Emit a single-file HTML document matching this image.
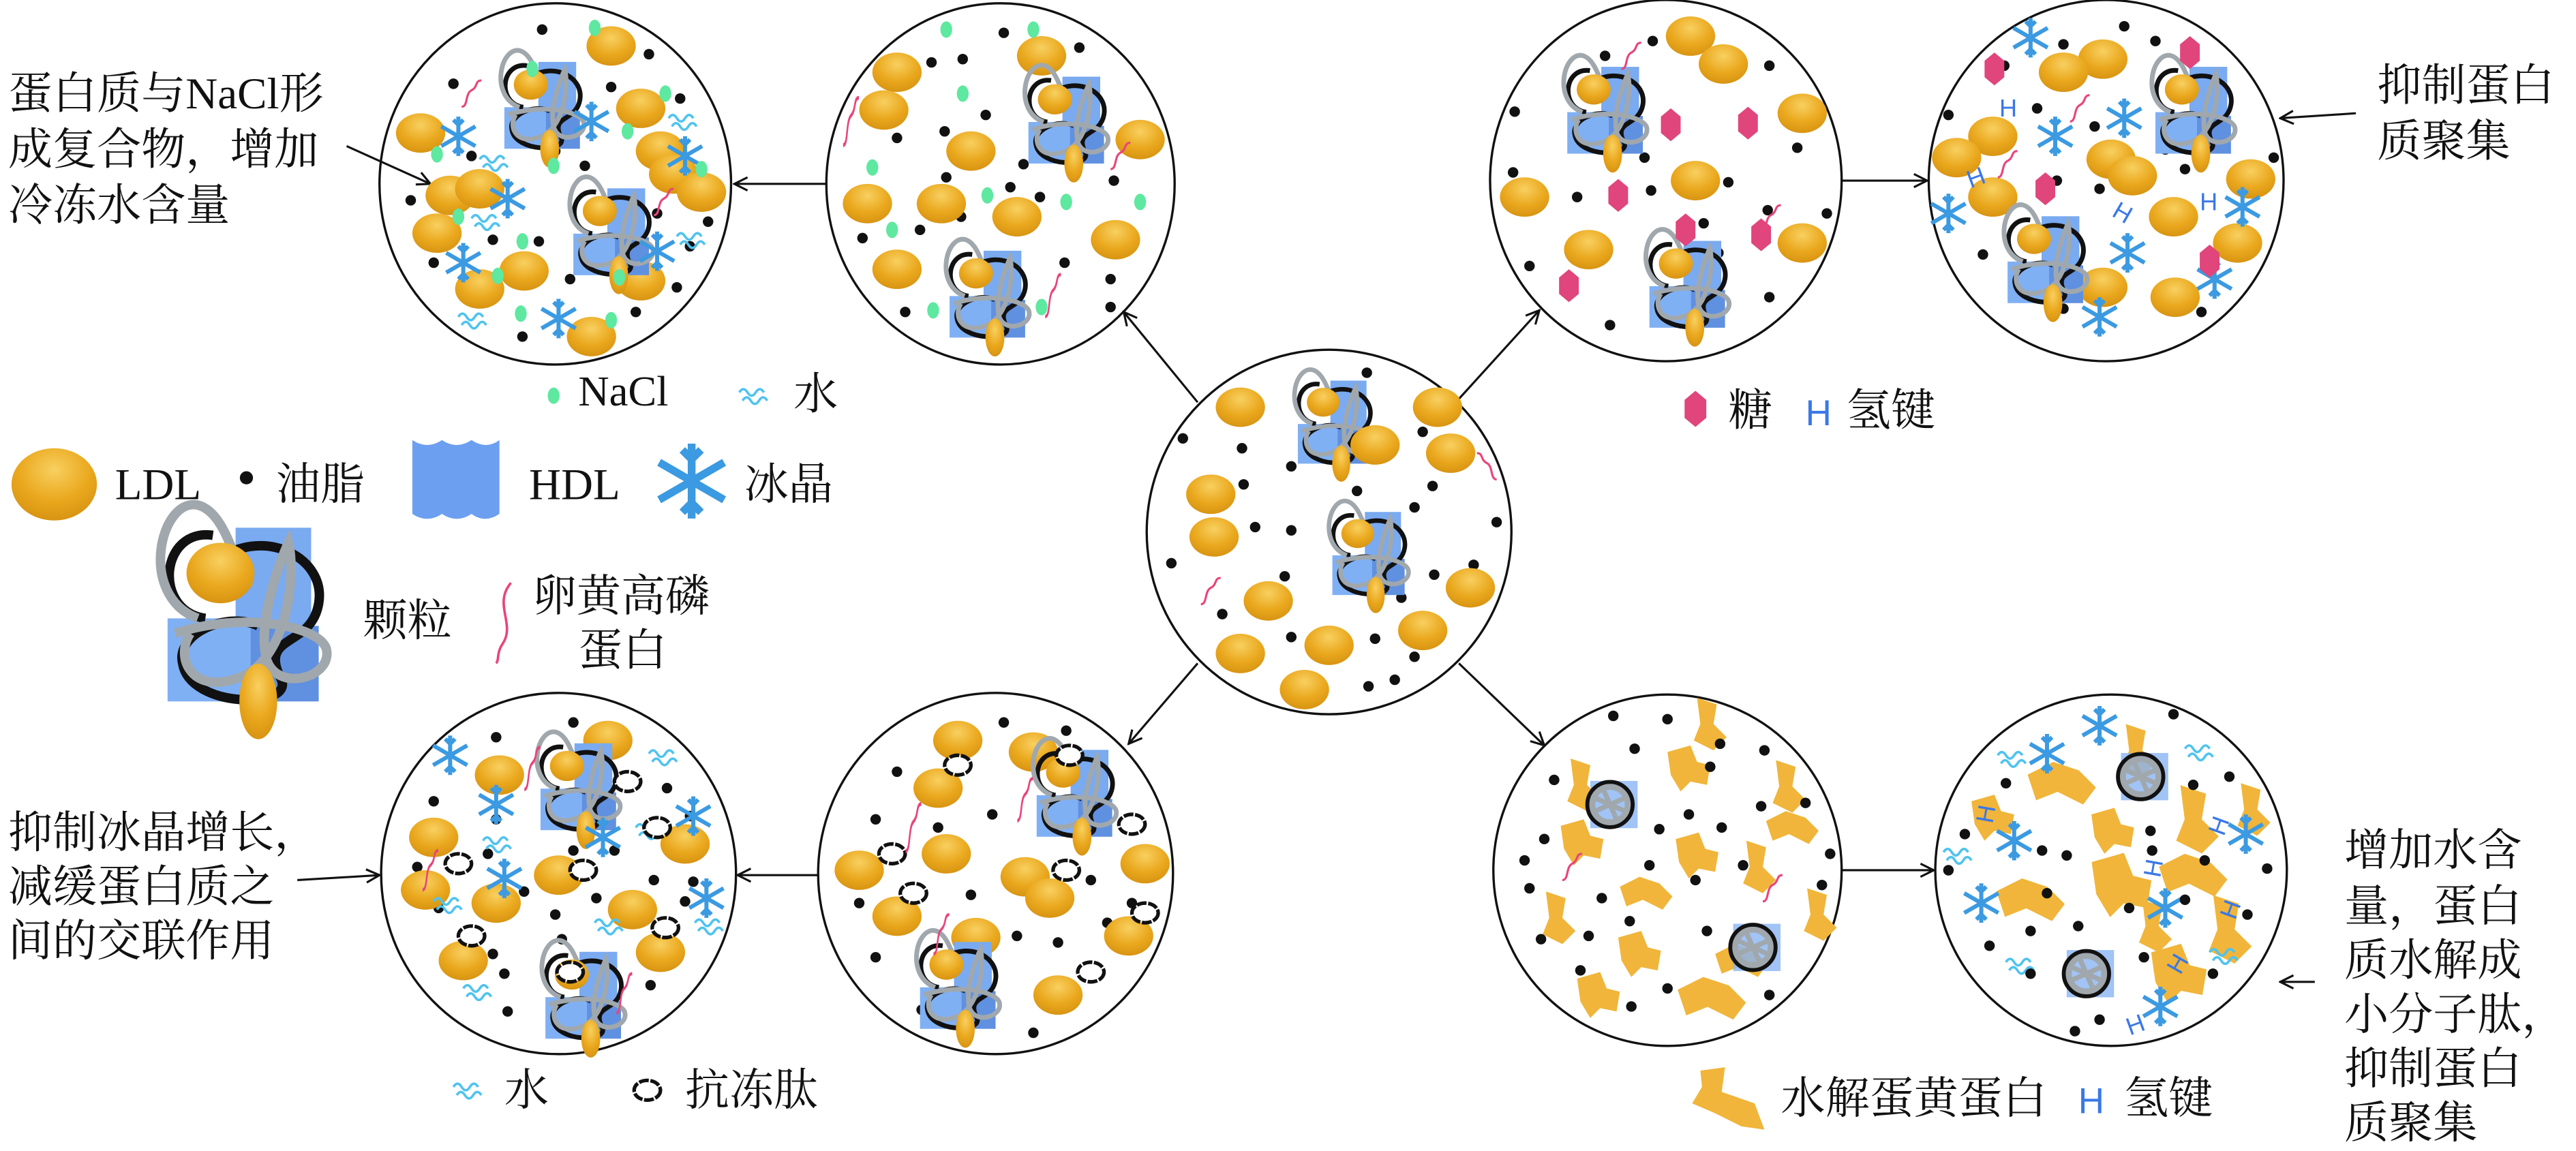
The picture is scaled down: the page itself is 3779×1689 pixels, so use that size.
<!DOCTYPE html>
<html><head><meta charset="utf-8"><style>
html,body{margin:0;padding:0;background:#fff;}
svg{display:block;}
text{font-family:"Liberation Serif","Noto Serif CJK SC",serif;fill:#111;}
.h{font-family:"Liberation Sans",sans-serif;fill:#3a78e6;font-size:15px;}
</style></head><body>
<svg width="3779" height="1689" viewBox="0 0 1568 701" preserveAspectRatio="none" xmlns="http://www.w3.org/2000/svg">
<defs>
<radialGradient id="gold" cx="0.5" cy="0.3" r="0.7">
<stop offset="0" stop-color="#f8d060"/><stop offset="0.6" stop-color="#eaa81e"/><stop offset="1" stop-color="#d89412"/></radialGradient>
<marker id="ar" markerWidth="10" markerHeight="10" refX="9" refY="5" orient="auto" markerUnits="userSpaceOnUse">
<path d="M1,1 L9,5 L1,9" fill="none" stroke="#111" stroke-width="1.3"/></marker>
<g id="L"><ellipse rx="15" ry="12" fill="url(#gold)"/></g>
<g id="d"><circle r="3.2" fill="#111"/></g>
<g id="n"><ellipse rx="3.6" ry="5" fill="#5ee8a0"/></g>
<g id="s" stroke="#3b9ae1" stroke-width="2.5" fill="none"><path d="M0,-12V12M-10.4,-6L10.4,6M-10.4,6L10.4,-6M-3,-10L0,-7L3,-10M-3,10L0,7L3,10"/></g>
<g id="w" stroke="#4fc3ef" stroke-width="1.5" fill="none"><path d="M-10,-2q2.5,-4 5,0t5,0t5,0M-8,3q2.5,-4 5,0t5,0t5,0"/></g>
<g id="x"><path d="M0,-10L6,-5L6,5L0,10L-6,5L-6,-5Z" fill="#e0457b"/></g>
<g id="p"><ellipse rx="8" ry="6" fill="#fff" stroke="#111" stroke-width="2.2" stroke-dasharray="6 1"/></g>
<g id="k"><path d="M-6,8 C-2,8 -4,0 0,-2 C4,-4 2,-8 6,-8" stroke="#e8457a" stroke-width="1.3" fill="none"/></g>
<g id="P">
<rect x="-2" y="-22" width="20" height="26" fill="#7aaaf0"/>
<rect x="-20" y="2" width="24" height="22" fill="#80b0f4"/>
<rect x="2" y="4" width="18" height="20" fill="#6090e0"/>
<path d="M-8,-20 C-22,-22 -24,0 -10,2 M-6,-14 C6,-22 22,-14 20,-2 C18,10 4,6 10,18 C14,26 -14,26 -16,14 C-18,6 -4,0 4,4" stroke="#111" stroke-width="2.5" fill="none"/>
<path d="M-12,2 C-28,-4 -22,-30 -12,-28 C-4,-26 -2,-10 2,-6 M-18,6 C0,0 20,4 22,10 C24,18 8,22 6,12 C4,2 10,-14 12,-18 C14,-10 12,14 -2,18 C-14,22 -18,12 -14,6" stroke="#a0a8ad" stroke-width="2.5" fill="none"/>
<ellipse cx="-6" cy="-10" rx="9" ry="8" fill="url(#gold)"/>
<ellipse cx="4" cy="24" rx="5" ry="10" fill="url(#gold)"/>
</g>
<g id="Q">
<rect x="-10" y="-12" width="24" height="24" fill="#8ab4f2" opacity="0.8"/>
<circle r="11" fill="none" stroke="#111" stroke-width="3"/>
<circle r="9" fill="none" stroke="#a0a8ad" stroke-width="3"/>
<path d="M-9,-4L9,4M-4,-9L4,9M-9,4L9,-4" stroke="#a0a8ad" stroke-width="2.5"/>
</g>
<g id="f1"><path d="M-12,-10L2,-14L6,-4L14,-2L12,10L2,8L-4,14L-10,4Z" fill="#f0b53a"/></g>
<g id="f2"><path d="M-6,-16L6,-12L4,0L12,8L4,16L-8,10L-4,0Z" fill="#f0b53a"/></g>
<g id="f3"><path d="M-16,-4L-4,-10L8,-6L16,2L10,10L-2,4L-12,8Z" fill="#f0b53a"/></g>
</defs>

<g stroke="#111" stroke-width="1.3" fill="none" marker-end="url(#ar)">
<line x1="503" y1="112" x2="447" y2="112"/>
<line x1="729" y1="245" x2="684" y2="190"/>
<line x1="888" y1="243" x2="937" y2="189"/>
<line x1="1121" y1="110" x2="1173" y2="110"/>
<line x1="729" y1="404" x2="687" y2="453"/>
<line x1="888" y1="404" x2="940" y2="454"/>
<line x1="1121" y1="530" x2="1177" y2="530"/>
<line x1="498" y1="533" x2="449" y2="533"/>
<line x1="211" y1="89" x2="262" y2="112"/>
<line x1="1434" y1="69" x2="1388" y2="72"/>
<line x1="181" y1="536" x2="231" y2="533"/>
<line x1="1409" y1="598" x2="1388" y2="598"/>
</g>

<g fill="none" stroke="#111" stroke-width="1.4">
<ellipse cx="338" cy="112" rx="107" ry="110"/>
<ellipse cx="609" cy="112" rx="106" ry="110"/>
<ellipse cx="809" cy="324" rx="111" ry="111"/>
<ellipse cx="1014" cy="110" rx="107" ry="110"/>
<ellipse cx="1282" cy="110" rx="108" ry="110"/>
<ellipse cx="340" cy="532" rx="108" ry="110"/>
<ellipse cx="606" cy="532" rx="108" ry="110"/>
<ellipse cx="1015" cy="530" rx="106" ry="107"/>
<ellipse cx="1285" cy="530" rx="107" ry="107"/>
</g>

<g>
<use href="#d" x="330" y="18"/><use href="#d" x="395" y="33"/><use href="#d" x="276" y="51"/><use href="#d" x="372" y="53"/><use href="#d" x="414" y="60"/><use href="#d" x="287" y="95"/><use href="#d" x="338" y="92"/><use href="#d" x="356" y="101"/><use href="#d" x="250" y="122"/><use href="#d" x="400" y="130"/><use href="#d" x="300" y="146"/><use href="#d" x="328" y="147"/><use href="#d" x="420" y="150"/><use href="#d" x="264" y="160"/><use href="#d" x="347" y="170"/><use href="#d" x="412" y="175"/><use href="#d" x="318" y="205"/><use href="#d" x="387" y="190"/><use href="#d" x="431" y="135"/>
<use href="#L" x="372" y="28"/><use href="#L" x="256" y="81"/><use href="#L" x="274" y="119"/><use href="#L" x="292" y="115"/><use href="#L" x="266" y="142"/><use href="#L" x="292" y="176"/><use href="#L" x="319" y="165"/><use href="#L" x="390" y="66"/><use href="#L" x="402" y="92"/><use href="#L" x="410" y="106"/><use href="#L" x="427" y="117"/><use href="#L" x="390" y="171"/><use href="#L" x="360" y="205"/>
<use href="#P" transform="translate(330,63) scale(1.15)"/><use href="#P" transform="translate(372,140) scale(1.15)"/>
<use href="#s" x="279" y="83"/><use href="#s" x="360" y="74"/><use href="#s" x="417" y="95"/><use href="#s" x="309" y="121"/><use href="#s" x="282" y="160"/><use href="#s" x="340" y="194"/><use href="#s" x="400" y="153"/>
<use href="#n" x="362" y="17"/><use href="#n" x="324" y="42"/><use href="#n" x="405" y="57"/><use href="#n" x="382" y="80"/><use href="#n" x="266" y="94"/><use href="#n" x="337" y="101"/><use href="#n" x="279" y="132"/><use href="#n" x="318" y="147"/><use href="#n" x="303" y="168"/><use href="#n" x="377" y="169"/><use href="#n" x="317" y="191"/><use href="#n" x="372" y="195"/><use href="#n" x="427" y="103"/>
<use href="#w" x="417" y="74"/><use href="#w" x="302" y="99"/><use href="#w" x="297" y="135"/><use href="#w" x="422" y="146"/><use href="#w" x="289" y="195"/>
<use href="#k" x="287" y="57"/><use href="#k" x="404" y="123"/>
</g>

<g>
<use href="#d" x="611" y="20"/><use href="#d" x="657" y="29"/><use href="#d" x="567" y="38"/><use href="#d" x="586" y="36"/><use href="#d" x="600" y="70"/><use href="#d" x="546" y="84"/><use href="#d" x="575" y="80"/><use href="#d" x="623" y="100"/><use href="#d" x="576" y="108"/><use href="#d" x="615" y="114"/><use href="#d" x="678" y="110"/><use href="#d" x="633" y="120"/><use href="#d" x="585" y="132"/><use href="#d" x="525" y="145"/><use href="#d" x="560" y="140"/><use href="#d" x="648" y="160"/><use href="#d" x="676" y="170"/><use href="#d" x="676" y="187"/><use href="#d" x="551" y="190"/>
<use href="#L" x="546" y="44"/><use href="#L" x="538" y="67"/><use href="#L" x="634" y="34"/><use href="#L" x="591" y="92"/><use href="#L" x="694" y="85"/><use href="#L" x="528" y="124"/><use href="#L" x="573" y="124"/><use href="#L" x="619" y="132"/><use href="#L" x="679" y="146"/><use href="#L" x="546" y="164"/>
<use href="#P" transform="translate(649,72) scale(1.15)"/><use href="#P" transform="translate(601,178) scale(1.15)"/>
<use href="#n" x="576" y="18"/><use href="#n" x="629" y="18"/><use href="#n" x="586" y="57"/><use href="#n" x="531" y="102"/><use href="#n" x="601" y="119"/><use href="#n" x="649" y="123"/><use href="#n" x="694" y="123"/><use href="#n" x="543" y="140"/><use href="#n" x="568" y="189"/><use href="#n" x="634" y="187"/>
<use href="#k" transform="translate(518,74) scale(0.8,1.8)"/><use href="#k" x="682" y="95"/><use href="#k" transform="translate(641,180) scale(0.8,1.6)"/>
</g>

<g>
<use href="#d" x="720" y="267"/><use href="#d" x="756" y="273"/><use href="#d" x="786" y="284"/><use href="#d" x="757" y="295"/><use href="#d" x="826" y="299"/><use href="#d" x="872" y="296"/><use href="#d" x="866" y="263"/><use href="#d" x="832" y="227"/><use href="#d" x="861" y="309"/><use href="#d" x="911" y="318"/><use href="#d" x="764" y="321"/><use href="#d" x="786" y="323"/><use href="#d" x="713" y="343"/><use href="#d" x="782" y="351"/><use href="#d" x="897" y="344"/><use href="#d" x="873" y="350"/><use href="#d" x="853" y="364"/><use href="#d" x="744" y="374"/><use href="#d" x="786" y="388"/><use href="#d" x="837" y="389"/><use href="#d" x="861" y="400"/><use href="#d" x="849" y="414"/><use href="#d" x="833" y="418"/>
<use href="#L" x="755" y="248"/><use href="#L" x="875" y="248"/><use href="#L" x="883" y="276"/><use href="#L" x="737" y="301"/><use href="#L" x="739" y="327"/><use href="#L" x="772" y="366"/><use href="#L" x="755" y="398"/><use href="#L" x="809" y="393"/><use href="#L" x="866" y="384"/><use href="#L" x="895" y="358"/><use href="#L" x="794" y="420"/>
<use href="#P" transform="translate(812,256) scale(1.1)"/><use href="#L" x="837" y="271"/>
<use href="#P" transform="translate(833,336) scale(1.1)"/>
<use href="#k" x="737" y="360"/><use href="#k" transform="translate(905,284) scale(-1,1)"/>
</g>

<g>
<use href="#d" x="1006" y="25"/><use href="#d" x="977" y="34"/><use href="#d" x="1077" y="40"/><use href="#d" x="922" y="68"/><use href="#d" x="1094" y="90"/><use href="#d" x="1001" y="96"/><use href="#d" x="921" y="105"/><use href="#d" x="960" y="120"/><use href="#d" x="1005" y="116"/><use href="#d" x="1052" y="111"/><use href="#d" x="1076" y="128"/><use href="#d" x="1037" y="136"/><use href="#d" x="1112" y="130"/><use href="#d" x="931" y="162"/><use href="#d" x="980" y="198"/><use href="#d" x="1077" y="181"/><use href="#d" x="1046" y="154"/>
<use href="#L" x="1029" y="22"/><use href="#L" x="1049" y="39"/><use href="#L" x="1097" y="69"/><use href="#L" x="928" y="120"/><use href="#L" x="1032" y="110"/><use href="#L" x="967" y="152"/><use href="#L" x="1097" y="148"/>
<use href="#P" transform="translate(977,66) scale(1.15)"/><use href="#P" transform="translate(1027,172) scale(1.15)"/>
<use href="#x" x="1017" y="76"/><use href="#x" x="1064" y="75"/><use href="#x" x="985" y="119"/><use href="#x" x="1026" y="140"/><use href="#x" x="1072" y="143"/><use href="#x" x="955" y="174"/>
<use href="#k" x="993" y="34"/><use href="#k" x="1078" y="133"/>
</g>

<g>
<use href="#d" x="1293" y="16"/><use href="#d" x="1256" y="27"/><use href="#d" x="1312" y="25"/><use href="#d" x="1220" y="40"/><use href="#d" x="1240" y="66"/><use href="#d" x="1186" y="70"/><use href="#d" x="1275" y="77"/><use href="#d" x="1252" y="110"/><use href="#d" x="1207" y="155"/><use href="#d" x="1330" y="103"/><use href="#d" x="1318" y="91"/><use href="#d" x="1384" y="96"/><use href="#d" x="1358" y="144"/><use href="#d" x="1278" y="115"/><use href="#d" x="1237" y="175"/><use href="#d" x="1256" y="188"/><use href="#d" x="1318" y="187"/><use href="#d" x="1340" y="190"/>
<use href="#L" x="1280" y="36"/><use href="#L" x="1256" y="44"/><use href="#L" x="1213" y="83"/><use href="#L" x="1191" y="96"/><use href="#L" x="1213" y="120"/><use href="#L" x="1285" y="97"/><use href="#L" x="1298" y="107"/><use href="#L" x="1323" y="132"/><use href="#L" x="1370" y="109"/><use href="#L" x="1362" y="148"/><use href="#L" x="1280" y="175"/><use href="#L" x="1324" y="181"/>
<use href="#P" transform="translate(1335,66) scale(1.15)"/><use href="#P" transform="translate(1245,157) scale(1.15)"/>
<use href="#s" x="1236" y="23"/><use href="#s" x="1251" y="83"/><use href="#s" x="1293" y="72"/><use href="#s" x="1186" y="130"/><use href="#s" x="1295" y="154"/><use href="#s" x="1365" y="126"/><use href="#s" x="1348" y="170"/><use href="#s" x="1278" y="193"/>
<use href="#x" x="1333" y="32"/><use href="#x" x="1214" y="42"/><use href="#x" x="1245" y="115"/><use href="#x" x="1345" y="159"/>
<use href="#k" x="1266" y="66"/><use href="#k" x="1222" y="100"/>
<text class="h" x="1217" y="71">H</text><text class="h" x="1197" y="113" transform="rotate(-20 1203 107)">H</text><text class="h" x="1287" y="135" transform="rotate(30 1293 129)">H</text><text class="h" x="1339" y="128">H</text>
</g>

<g>
<use href="#d" x="349" y="440"/><use href="#d" x="302" y="449"/><use href="#d" x="264" y="488"/><use href="#d" x="302" y="499"/><use href="#d" x="297" y="520"/><use href="#d" x="349" y="518"/><use href="#d" x="374" y="518"/><use href="#d" x="406" y="480"/><use href="#d" x="420" y="497"/><use href="#d" x="254" y="528"/><use href="#d" x="319" y="543"/><use href="#d" x="267" y="553"/><use href="#d" x="338" y="557"/><use href="#d" x="363" y="547"/><use href="#d" x="398" y="536"/><use href="#d" x="422" y="537"/><use href="#d" x="417" y="549"/><use href="#d" x="342" y="572"/><use href="#d" x="300" y="581"/><use href="#d" x="307" y="593"/><use href="#d" x="309" y="616"/><use href="#d" x="396" y="600"/>
<use href="#L" x="370" y="451"/><use href="#L" x="304" y="472"/><use href="#L" x="264" y="510"/><use href="#L" x="259" y="542"/><use href="#L" x="302" y="550"/><use href="#L" x="340" y="533"/><use href="#L" x="385" y="554"/><use href="#L" x="417" y="514"/><use href="#L" x="402" y="580"/><use href="#L" x="282" y="585"/>
<use href="#P" transform="translate(352,478) scale(1.15)"/><use href="#P" transform="translate(355,605) scale(1.15)"/>
<use href="#s" x="274" y="460"/><use href="#s" x="302" y="490"/><use href="#s" x="367" y="510"/><use href="#s" x="307" y="535"/><use href="#s" x="430" y="547"/><use href="#s" x="422" y="497"/>
<use href="#w" x="405" y="461"/><use href="#w" x="304" y="514"/><use href="#w" x="274" y="551"/><use href="#w" x="372" y="564"/><use href="#w" x="433" y="564"/><use href="#w" x="292" y="604"/><use href="#w" x="397" y="506"/>
<use href="#p" x="382" y="476"/><use href="#p" x="279" y="526"/><use href="#p" x="355" y="530"/><use href="#p" x="400" y="504"/><use href="#p" x="287" y="570"/><use href="#p" x="347" y="592"/><use href="#p" x="405" y="565"/>
<use href="#k" transform="translate(262,530) scale(0.8,1.5)"/><use href="#k" transform="translate(324,468) scale(0.8,1.6)"/><use href="#k" transform="translate(380,605) scale(0.8,1.5)"/>
</g>

<g>
<use href="#d" x="611" y="440"/><use href="#d" x="649" y="445"/><use href="#d" x="546" y="470"/><use href="#d" x="533" y="499"/><use href="#d" x="604" y="496"/><use href="#d" x="571" y="504"/><use href="#d" x="687" y="522"/><use href="#d" x="591" y="545"/><use href="#d" x="523" y="550"/><use href="#d" x="664" y="536"/><use href="#d" x="689" y="550"/><use href="#d" x="619" y="570"/><use href="#d" x="533" y="583"/><use href="#d" x="644" y="574"/><use href="#d" x="674" y="562"/><use href="#d" x="629" y="629"/><use href="#d" x="561" y="615"/>
<use href="#L" x="583" y="451"/><use href="#L" x="629" y="458"/><use href="#L" x="571" y="480"/><use href="#L" x="576" y="520"/><use href="#L" x="523" y="530"/><use href="#L" x="546" y="558"/><use href="#L" x="624" y="534"/><use href="#L" x="639" y="547"/><use href="#L" x="697" y="526"/><use href="#L" x="687" y="570"/><use href="#L" x="594" y="571"/><use href="#L" x="644" y="606"/>
<use href="#P" transform="translate(654,482) scale(1.15)"/><use href="#P" transform="translate(583,599) scale(1.15)"/>
<use href="#p" x="651" y="460"/><use href="#p" x="583" y="466"/><use href="#p" x="689" y="502"/><use href="#p" x="649" y="530"/><use href="#p" x="697" y="556"/><use href="#p" x="556" y="544"/><use href="#p" x="543" y="520"/><use href="#p" x="664" y="592"/>
<use href="#k" transform="translate(556,504) scale(0.8,1.8)"/><use href="#k" transform="translate(624,487) scale(0.8,1.6)"/><use href="#k" transform="translate(573,569) scale(0.8,1.5)"/>
</g>

<g>
<use href="#f2" x="1039" y="441"/><use href="#f1" x="1027" y="468"/><use href="#f2" x="1087" y="479"/><use href="#f3" x="1091" y="504"/><use href="#f1" x="1032" y="521"/><use href="#f2" x="1069" y="528"/><use href="#f3" x="1002" y="544"/><use href="#f2" x="947" y="559"/><use href="#f1" x="997" y="581"/><use href="#f3" transform="translate(1042,608) scale(1.3)"/><use href="#f1" x="972" y="606"/><use href="#f2" x="1106" y="557"/><use href="#f1" x="962" y="513"/><use href="#f3" x="1060" y="585"/><use href="#f2" x="962" y="478"/>
<use href="#Q" transform="translate(980,490) scale(1.2)"/><use href="#Q" transform="translate(1067,577) scale(1.2)"/>
<use href="#d" x="982" y="436"/><use href="#d" x="1015" y="438"/><use href="#d" x="1047" y="453"/><use href="#d" x="1074" y="457"/><use href="#d" x="995" y="456"/><use href="#d" x="946" y="475"/><use href="#d" x="1041" y="467"/><use href="#d" x="1072" y="491"/><use href="#d" x="1099" y="489"/><use href="#d" x="1028" y="496"/><use href="#d" x="1048" y="504"/><use href="#d" x="1010" y="505"/><use href="#d" x="940" y="511"/><use href="#d" x="928" y="524"/><use href="#d" x="1004" y="527"/><use href="#d" x="1061" y="527"/><use href="#d" x="1114" y="520"/><use href="#d" x="1032" y="536"/><use href="#d" x="1109" y="539"/><use href="#d" x="931" y="541"/><use href="#d" x="975" y="547"/><use href="#d" x="992" y="561"/><use href="#d" x="1039" y="567"/><use href="#d" x="938" y="572"/><use href="#d" x="967" y="570"/><use href="#d" x="962" y="591"/><use href="#d" x="1015" y="602"/><use href="#d" x="1077" y="606"/><use href="#d" x="993" y="613"/>
<use href="#k" x="957" y="528"/><use href="#k" x="1079" y="541"/>
</g>

<g>
<use href="#f3" transform="translate(1255,477) scale(1.3)"/><use href="#f2" x="1300" y="457"/><use href="#f2" transform="translate(1335,499) scale(1.3)"/><use href="#f1" x="1285" y="506"/><use href="#f3" transform="translate(1236,548) scale(1.3)"/><use href="#f1" transform="translate(1290,539) scale(1.4)"/><use href="#f3" transform="translate(1335,533) scale(1.3)"/><use href="#f2" x="1310" y="564"/><use href="#f2" transform="translate(1355,566) scale(1.3)"/><use href="#f1" transform="translate(1325,593) scale(1.3)"/><use href="#f2" x="1370" y="493"/><use href="#f1" x="1212" y="498"/>
<use href="#Q" transform="translate(1303,473) scale(1.2)"/><use href="#Q" transform="translate(1270,593) scale(1.2)"/>
<use href="#s" x="1278" y="442"/><use href="#s" x="1246" y="459"/><use href="#s" x="1226" y="512"/><use href="#s" x="1206" y="550"/><use href="#s" x="1367" y="508"/><use href="#s" x="1318" y="553"/><use href="#s" x="1315" y="613"/>
<use href="#w" x="1226" y="462"/><use href="#w" x="1340" y="458"/><use href="#w" x="1193" y="521"/><use href="#w" x="1355" y="582"/><use href="#w" x="1231" y="588"/>
<use href="#d" x="1323" y="435"/><use href="#d" x="1357" y="473"/><use href="#d" x="1221" y="477"/><use href="#d" x="1335" y="478"/><use href="#d" x="1309" y="506"/><use href="#d" x="1310" y="518"/><use href="#d" x="1196" y="508"/><use href="#d" x="1243" y="518"/><use href="#d" x="1258" y="521"/><use href="#d" x="1342" y="524"/><use href="#d" x="1186" y="530"/><use href="#d" x="1380" y="529"/><use href="#d" x="1246" y="544"/><use href="#d" x="1296" y="553"/><use href="#d" x="1368" y="557"/><use href="#d" x="1330" y="548"/><use href="#d" x="1236" y="567"/><use href="#d" x="1265" y="564"/><use href="#d" x="1211" y="576"/><use href="#d" x="1305" y="583"/><use href="#d" x="1236" y="593"/><use href="#d" x="1347" y="593"/><use href="#d" x="1278" y="621"/><use href="#d" x="1263" y="628"/>
<text class="h" x="1202" y="501" transform="rotate(-80 1208 495)">H</text><text class="h" x="1344" y="508" transform="rotate(-70 1350 502)">H</text><text class="h" x="1304" y="534" transform="rotate(-80 1310 528)">H</text><text class="h" x="1351" y="559" transform="rotate(-70 1357 553)">H</text><text class="h" x="1294" y="629" transform="rotate(-20 1300 623)">H</text><text class="h" x="1319" y="592" transform="rotate(-60 1325 586)">H</text>
</g>

<g>
<use href="#n" x="337" y="241"/><text x="352" y="247" font-size="26">NaCl</text>
<use href="#w" x="460" y="241"/><text x="483" y="249" font-size="27">水</text>

<ellipse cx="33" cy="295" rx="26" ry="22" fill="url(#gold)"/><text x="70" y="304" font-size="27">LDL</text>
<circle cx="150" cy="291" r="4" fill="#111"/><text x="168" y="304" font-size="27">油脂</text>
<path d="M251,268 q9,6 18,0 q9,6 18,0 q9,6 17,0 V313 q-9,6 -17,0 q-9,6 -18,0 q-9,6 -18,0 Z" fill="#6c9ff0"/>
<text x="322" y="304" font-size="27">HDL</text>
<use href="#s" transform="translate(421,293) scale(1.9)"/><text x="453" y="304" font-size="27">冰晶</text>

<use href="#P" transform="translate(148,372) scale(2.3)"/>
<text x="221" y="387" font-size="27">颗粒</text>
<path d="M311,355 C300,368 314,380 306,392 C302,398 304,402 302,404" stroke="#e8457a" stroke-width="1.5" fill="none"/>
<text x="324" y="372" font-size="27">卵黄高磷</text>
<text x="352" y="405" font-size="27">蛋白</text>

<use href="#x" transform="translate(1032,249) scale(1.1)"/><text x="1052" y="259" font-size="27">糖</text>
<text x="1099" y="259" font-size="22" style="font-family:'Liberation Sans',sans-serif;fill:#3a78e6">H</text><text x="1124" y="259" font-size="27">氢键</text>

<use href="#w" x="286" y="664"/><text x="307" y="673" font-size="27">水</text>
<use href="#p" x="394" y="664"/><text x="417" y="673" font-size="27">抗冻肽</text>

<path d="M1035,652 L1050,650 L1048,665 L1068,672 L1074,688 L1060,686 L1044,678 L1030,672 L1036,662 Z" fill="#f0b53a"/>
<text x="1084" y="678" font-size="27">水解蛋黄蛋白</text>
<text x="1265" y="678" font-size="22" style="font-family:'Liberation Sans',sans-serif;fill:#3a78e6">H</text><text x="1293" y="678" font-size="27">氢键</text>
</g>

<g font-size="27">
<text x="5" y="66">蛋白质与NaCl形</text>
<text x="5" y="100">成复合物，增加</text>
<text x="5" y="134">冷冻水含量</text>
<text x="1447" y="61">抑制蛋白</text>
<text x="1447" y="95">质聚集</text>
<text x="5" y="516">抑制冰晶增长，</text>
<text x="5" y="549">减缓蛋白质之</text>
<text x="5" y="582">间的交联作用</text>
<text x="1427" y="527">增加水含</text>
<text x="1427" y="561">量，蛋白</text>
<text x="1427" y="594">质水解成</text>
<text x="1427" y="627">小分子肽，</text>
<text x="1427" y="660">抑制蛋白</text>
<text x="1427" y="693">质聚集</text>
</g>
</svg>
</body></html>
